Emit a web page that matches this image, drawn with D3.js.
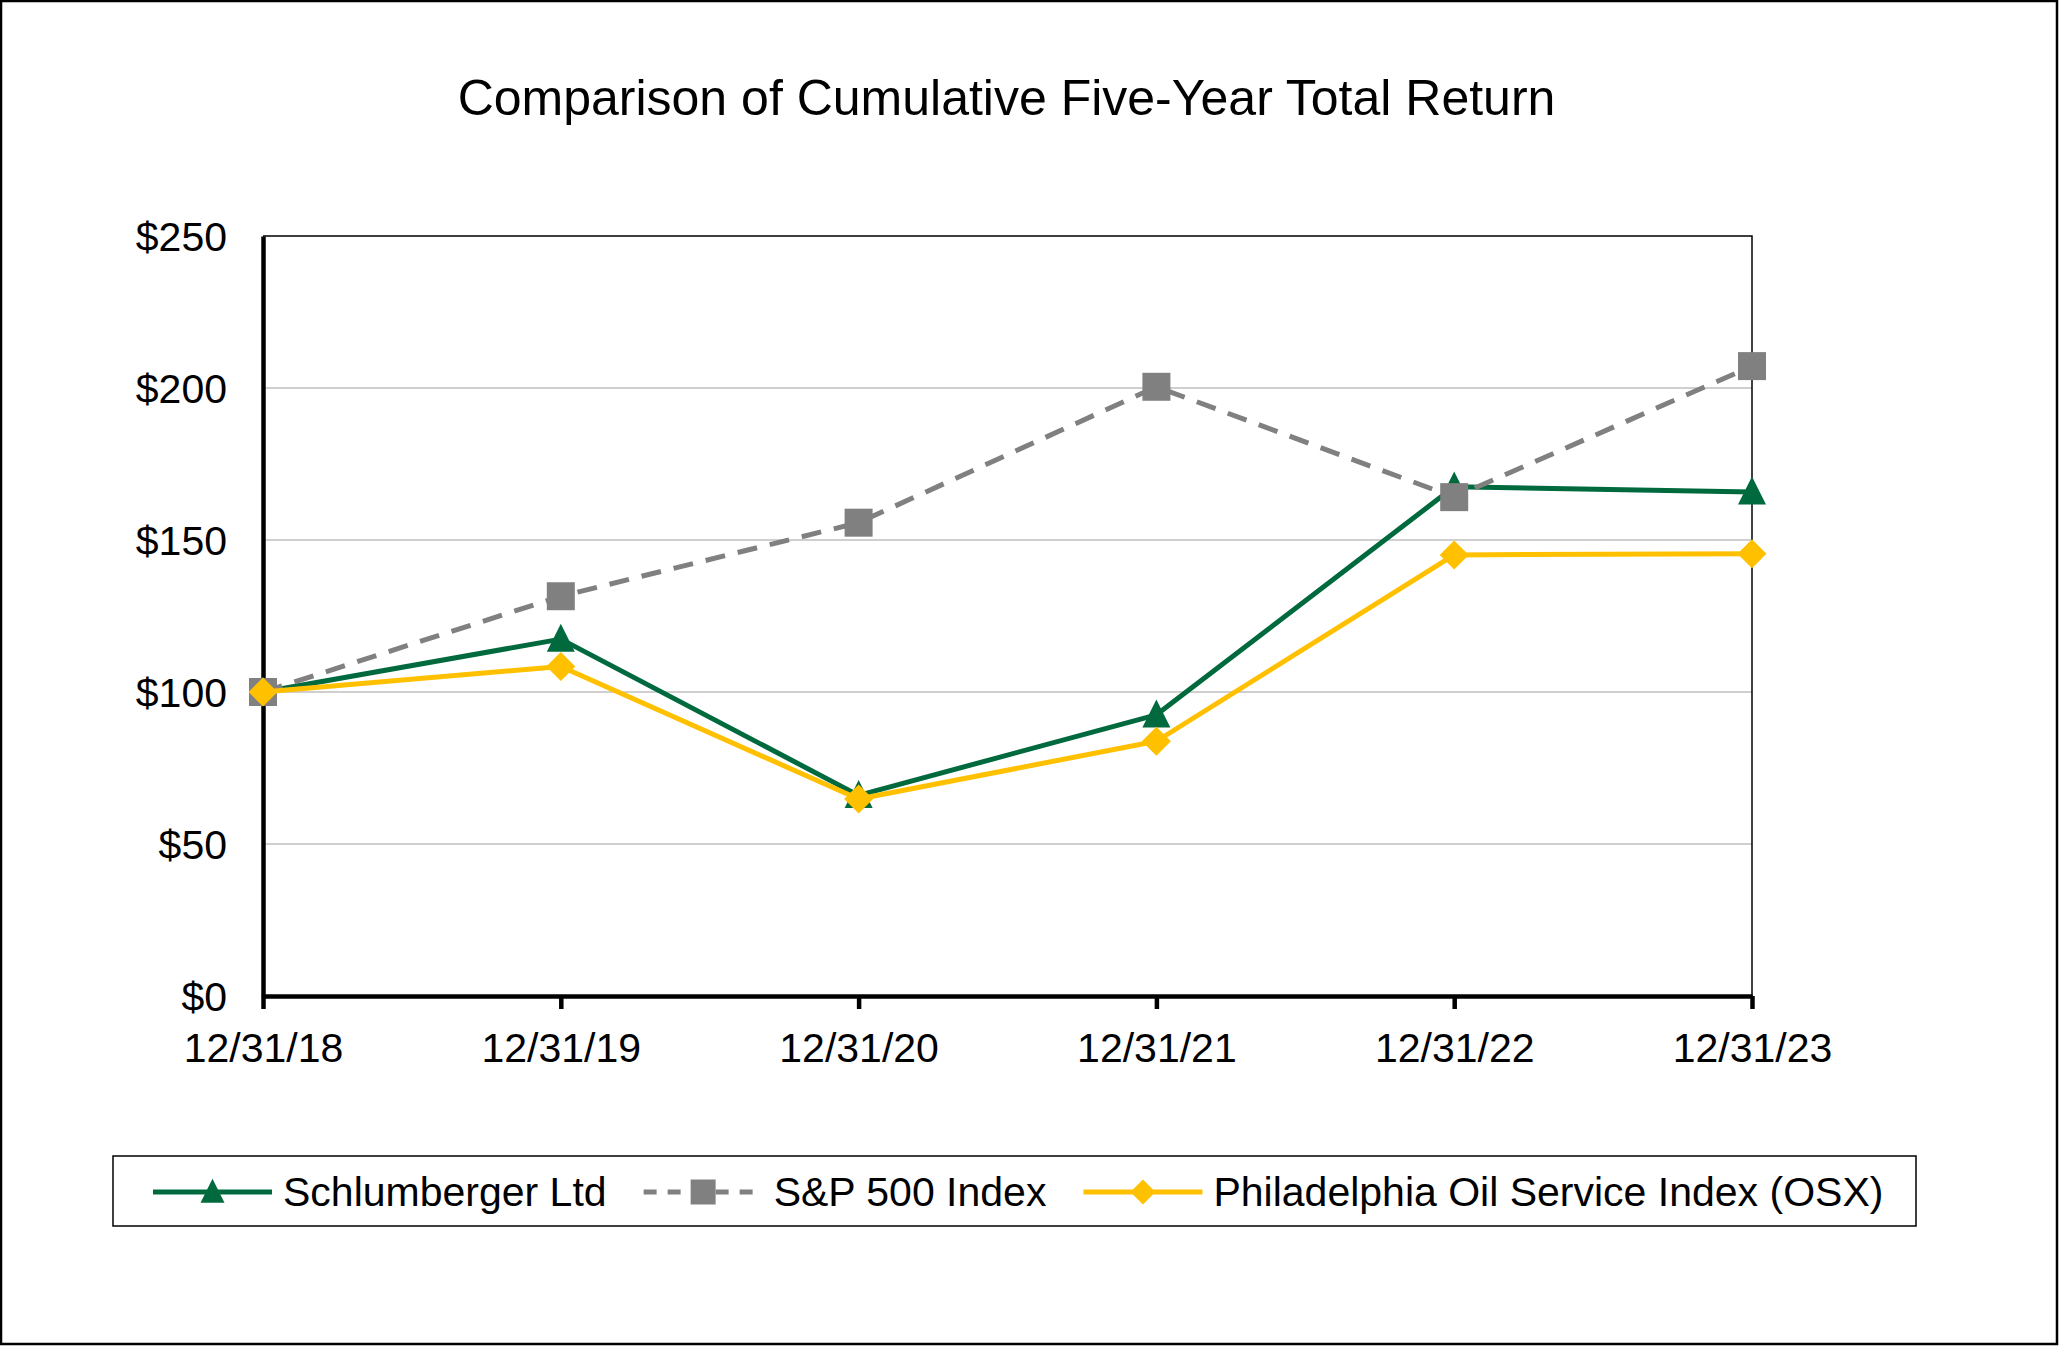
<!DOCTYPE html>
<html>
<head>
  <script src="https://d3js.org/d3.v7.min.js"></script>
  <style>
    body { margin: 0; background: #fff; }
    svg { display: block; font-family: "Liberation Sans", Arial, sans-serif; }
    .tick-label { font-size: 41px; fill: #000; }
    .title { font-size: 50px; fill: #000; }
    .legend text { font-size: 41px; fill: #000; }
  </style>
</head>
<body>
  <div id="chart"></div>

  <script>
    // data
    const dates = ["12/31/18", "12/31/19", "12/31/20", "12/31/21", "12/31/22", "12/31/23"];
    const slb = [100, 117.4, 66, 92.5, 167.5, 165.8];
    const sp500 = [100, 131.5, 155.7, 200.4, 164.1, 207.2];
    const osx = [100, 108.4, 64.8, 83.8, 145.1, 145.5];
    const yTicks = [0, 50, 100, 150, 200, 250];

    const series = [
      { name: "Schlumberger Ltd", values: slb, color: "#006a3e", marker: "triangle", dash: null },
      { name: "S&P 500 Index", values: sp500, color: "#808080", marker: "square", dash: "20,13" },
      { name: "Philadelphia Oil Service Index (OSX)", values: osx, color: "#ffc000", marker: "diamond", dash: null }
    ];

    const W = 2059, H = 1346;
    const margin = { top: 236, right: 307, bottom: 350, left: 263 },
          width = W - margin.left - margin.right,
          height = H - margin.top - margin.bottom;

    const root = d3.select("#chart").append("svg")
      .attr("width", W)
      .attr("height", H);

    // outer frame
    root.append("rect")
      .attr("x", 1).attr("y", 1)
      .attr("width", W - 3).attr("height", H - 3)
      .attr("fill", "none")
      .attr("stroke", "#000")
      .attr("stroke-width", 2.5);

    const svg = root.append("g")
      .attr("transform", `translate(${margin.left},${margin.top})`);

    const x = d3.scalePoint().domain(dates).range([0, width]).padding(0);
    const y = d3.scaleLinear().domain([0, 250]).range([height, 0]);

    // title
    svg.append("text")
      .attr("class", "title")
      .attr("text-anchor", "middle")
      .attr("x", width / 2 - 1)
      .attr("y", 115 - margin.top)
      .text("Comparison of Cumulative Five-Year Total Return");

    // gridlines
    svg.append("g")
      .selectAll("line")
      .data(yTicks.filter(d => d > 0 && d < 250))
      .join("line")
        .attr("x1", 0).attr("x2", width)
        .attr("y1", d => y(d)).attr("y2", d => y(d))
        .attr("stroke", "#bfbfbf")
        .attr("stroke-width", 1.5);

    // top and right frame of the plot
    svg.append("path")
      .attr("d", `M0,${y(250)}H${width}V${height}`)
      .attr("fill", "none")
      .attr("stroke", "#000")
      .attr("stroke-width", 1.5);

    // y axis
    const yAxis = svg.append("g")
      .call(d3.axisLeft(y).tickValues(yTicks).tickSize(0).tickPadding(36).tickFormat(d => "$" + d));
    yAxis.select(".domain").attr("stroke", "#000").attr("stroke-width", 4.5);
    yAxis.selectAll("text").attr("class", "tick-label").attr("dy", "0.35em");

    // x axis
    const xAxis = svg.append("g")
      .attr("transform", `translate(0,${height})`)
      .call(d3.axisBottom(x).tickSize(13).tickSizeOuter(0).tickPadding(24));
    xAxis.select(".domain").attr("stroke", "#000").attr("stroke-width", 4.5);
    xAxis.selectAll(".tick line").attr("stroke", "#000").attr("stroke-width", 4.5);
    xAxis.selectAll("text").attr("class", "tick-label").attr("dy", "0.71em");

    // marker shapes
    function markerPath(type, s) {
      if (type === "triangle") return `M0,${-s * 0.55}L${s * 0.5},${s * 0.45}L${-s * 0.5},${s * 0.45}Z`;
      if (type === "square") return `M${-s / 2},${-s / 2}h${s}v${s}h${-s}Z`;
      return `M0,${-s / 2}L${s / 2},0L0,${s / 2}L${-s / 2},0Z`;
    }
    const markerSize = { triangle: 28, square: 28, diamond: 29 };

    const line = d3.line()
      .x((d, i) => x(dates[i]))
      .y(d => y(d));

    series.forEach(s => {
      const g = svg.append("g");
      g.append("path")
        .datum(s.values)
        .attr("fill", "none")
        .attr("stroke", s.color)
        .attr("stroke-width", 5)
        .attr("stroke-linejoin", "round")
        .attr("stroke-dasharray", s.dash)
        .attr("d", line);
      g.selectAll("path.mk")
        .data(s.values)
        .join("path")
          .attr("class", "mk")
          .attr("transform", (d, i) => `translate(${x(dates[i])},${y(d)})`)
          .attr("d", markerPath(s.marker, markerSize[s.marker]))
          .attr("fill", s.color);
    });

    // legend
    const legend = root.append("g").attr("class", "legend");
    legend.append("rect")
      .attr("x", 113).attr("y", 1156)
      .attr("width", 1803).attr("height", 70)
      .attr("fill", "none")
      .attr("stroke", "#000")
      .attr("stroke-width", 1.5);

    let lx = 153;
    const ly = 1192;
    series.forEach(s => {
      const item = legend.append("g").attr("transform", `translate(${lx},${ly})`);
      item.append("line")
        .attr("x1", 0).attr("x2", 119)
        .attr("stroke", s.color)
        .attr("stroke-width", 5)
        .attr("stroke-dasharray", s.dash ? "13,11" : null);
      item.append("path")
        .attr("transform", "translate(59.5,0)")
        .attr("d", markerPath(s.marker, s.marker === "triangle" ? 24 : 25))
        .attr("fill", s.color);
      const t = item.append("text")
        .attr("x", 130)
        .attr("y", 14)
        .text(s.name);
      lx += 130 + t.node().getComputedTextLength() + 37;
    });
  </script>
</body>
</html>
